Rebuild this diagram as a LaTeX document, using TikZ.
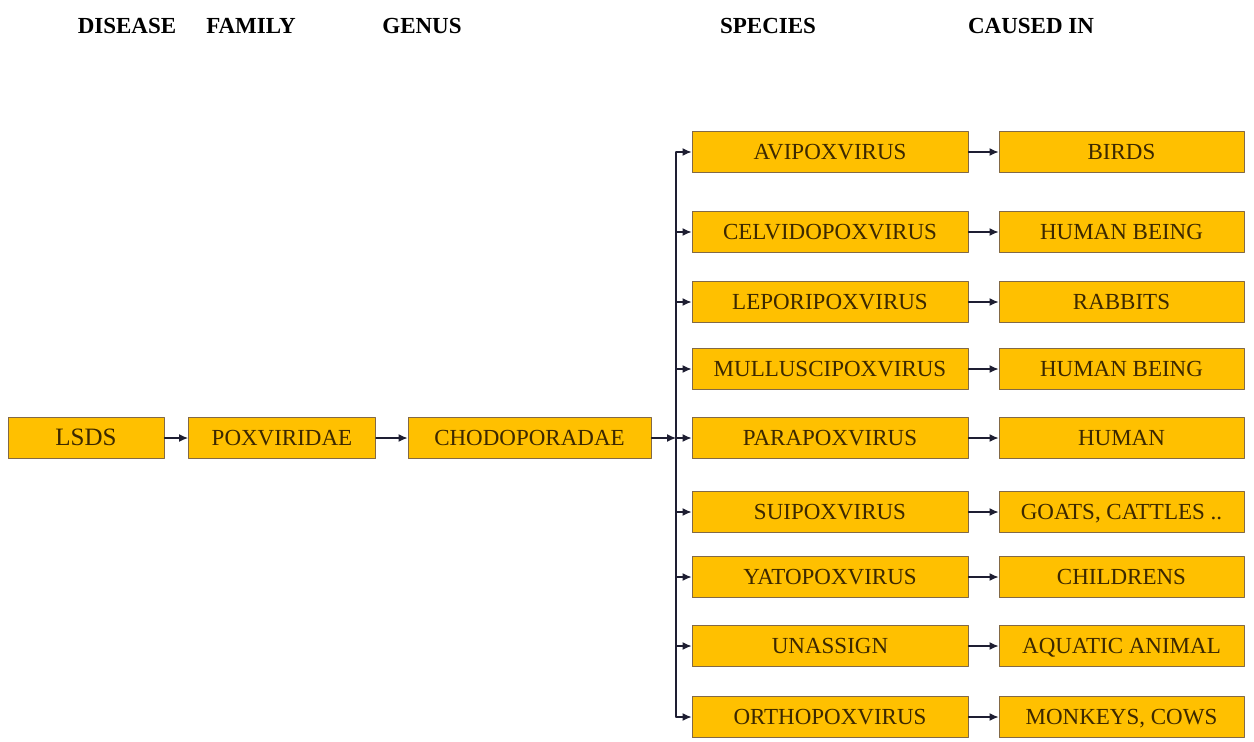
\documentclass[tikz,border=0pt]{standalone}
\usepackage{fontspec}
\setmainfont{Liberation Serif}
\usetikzlibrary{arrows.meta,positioning}
\definecolor{boxfill}{RGB}{255,192,0}
\definecolor{boxline}{RGB}{130,105,70}
\definecolor{boxtext}{RGB}{60,40,0}
\definecolor{linkcol}{RGB}{30,30,50}
\tikzset{
  taxbox/.style={draw=boxline,fill=boxfill,text=boxtext,line width=1pt,
    minimum height=41pt,inner sep=0pt,text height=15pt,text depth=0pt,
    font=\fontsize{23}{23}\selectfont},
  colhead/.style={font=\bfseries\fontsize{23}{23}\selectfont},
  link/.style={draw=linkcol,line width=1.2pt,-{Latex[length=9pt,width=8pt]}},
}
\begin{document}
\begin{tikzpicture}[x=1pt,y=-1pt,line cap=round,line join=round]
        \useasboundingbox (0,0) rectangle (1254,742);
        \node[colhead] (hdisease) at (127,26) {DISEASE};
        \node[colhead] (hfamily) at (251,26) {FAMILY};
        \node[colhead] (hgenus) at (422,26) {GENUS};
        \node[colhead] (hspecies) at (768,26) {SPECIES};
        \node[colhead] (hcaused) at (1031,26) {CAUSED IN};

        \node[taxbox,minimum width=156pt] (lsds) at (86,438) {\fontsize{25}{25}\selectfont LSDS};
        \node[taxbox,minimum width=187pt] (pox) at (282,438) {POXVIRIDAE};
        \node[taxbox,minimum width=243pt] (chodo) at (529.5,438) {CHODOPORADAE};
        \coordinate (trunk) at (676,438);

        \draw[link] (lsds) -- (pox);
        \draw[link] (pox) -- (chodo);
        \draw[link] (chodo) -- (trunk);

        \foreach \y/\sp/\host [count=\i] in {152/AVIPOXVIRUS/BIRDS,
            232/CELVIDOPOXVIRUS/HUMAN BEING, 302/LEPORIPOXVIRUS/RABBITS,
            369/MULLUSCIPOXVIRUS/HUMAN BEING, 438/PARAPOXVIRUS/HUMAN,
            512/SUIPOXVIRUS/{GOATS, CATTLES ..}, 577/YATOPOXVIRUS/CHILDRENS,
            646/UNASSIGN/AQUATIC ANIMAL, 717/ORTHOPOXVIRUS/{MONKEYS, COWS}} {
          \node[taxbox,minimum width=276pt] (sp\i) at (830,\y) {\sp};
          \node[taxbox,minimum width=245pt] (host\i) at (1121.5,\y) {\host};
          \draw[link] (sp\i) -- (host\i);
          \draw[link] (sp\i.west -| trunk) -- (sp\i);
        }
        \draw[linkcol,line width=1.2pt] (sp1.west -| trunk) -- (sp9.west -| trunk);
      \end{tikzpicture}
\end{document}
